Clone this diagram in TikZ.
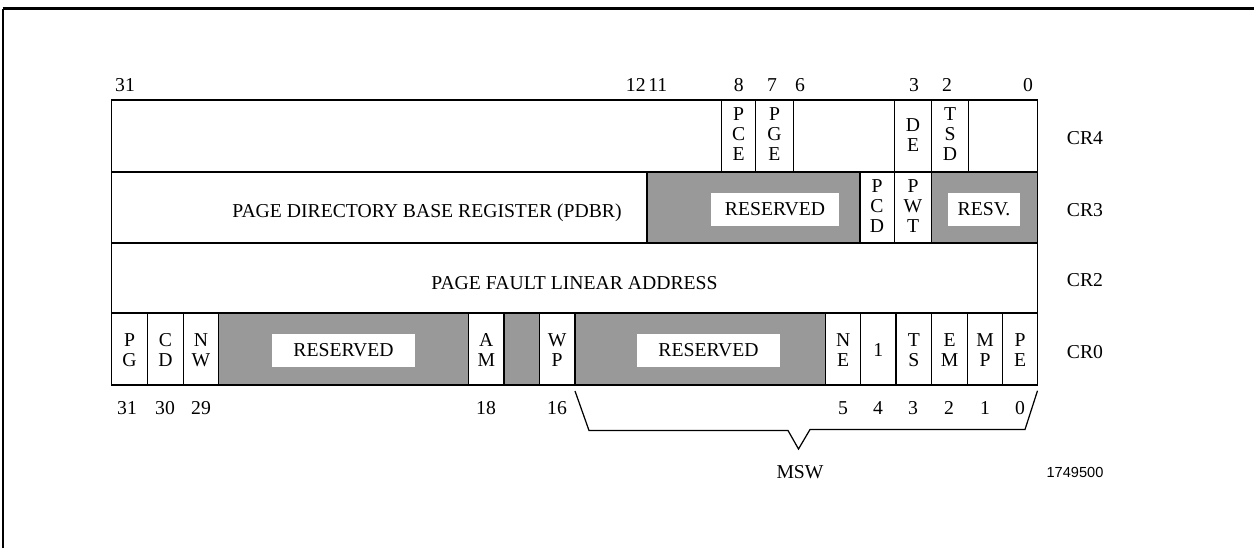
\documentclass[tikz,border=0pt]{standalone}
\usepackage{fontspec}
\setmainfont{Liberation Serif}
\newfontfamily\figidfont{Liberation Sans}
\definecolor{resgray}{RGB}{153,153,153}
\tikzset{
  txt/.style={font=\fontsize{11.2}{13}\selectfont, inner sep=0pt},
  flag/.style={txt, align=center, font=\fontsize{11.2}{11.4}\selectfont},
  resbox/.style={txt, fill=white, minimum height=0.66cm},
  rowline/.style={line width=1.1pt},
  cellline/.style={line width=0.7pt}
}
\begin{document}
\begin{tikzpicture}[x=0.02cm, y=-0.02cm]
\useasboundingbox (0,0) rectangle (1254,548);
% page frame
\draw[line width=0.75pt] (3,548) -- (3,8.7);
\draw[line width=1.5pt] (2.6,8.7) -- (1254,8.7);
% reserved fields
\fill[resgray] (647,171.7) rectangle (860,242.7);
\fill[resgray] (932,171.7) rectangle (1037.5,242.7);
\fill[resgray] (218.7,313.3) rectangle (468.7,385);
\fill[resgray] (504,313.3) rectangle (539.3,385);
\fill[resgray] (575,313.3) rectangle (825.7,385);
\node[resbox, minimum width=2.56cm] (res3) at (775,209) {RESERVED};
\node[resbox, minimum width=1.44cm] (resv3) at (984,209) {RESV.};
\node[resbox, minimum width=2.86cm] (res0a) at (343.5,350.5) {RESERVED};
\node[resbox, minimum width=2.86cm] (res0b) at (708.5,350.5) {RESERVED};
% registers
\begin{scope}[rowline]
\draw (111.5,100) rectangle (1037.5,385);
\foreach \y in {171.7,242.7,313.3}
  \draw (111.5,\y) -- (1037.5,\y);
\end{scope}
\begin{scope}[cellline]
\foreach \x in {721.7,755.7,793.3,894.3,931.7,968.3}
  \draw (\x,100) -- (\x,171.7);
\foreach \x in {647,860,894.3,931.7}
  \draw (\x,171.7) -- (\x,242.7);
\foreach \x in {147.7,183.3,218.7,468.7,504,539.3,575,825.7,860.7,896,931.7,967.5,1002.7}
  \draw (\x,313.3) -- (\x,385);
\end{scope}
% CR4 flags
\node[flag] (pce) at (738.7,134) {P\\C\\E};
\node[flag] (pge) at (774.5,134) {P\\G\\E};
\node[flag] (de) at (913,135) {D\\E};
\node[flag] (tsd) at (950,134) {T\\S\\D};
% CR3
\node[txt] (pdbr) at (427,213) {PAGE DIRECTORY BASE REGISTER (PDBR)};
\node[flag] (pcd) at (877,206) {P\\C\\D};
\node[flag] (pwt) at (913,206) {P\\W\\T};
% CR2
\node[txt] (pfla) at (574.5,283) {PAGE FAULT LINEAR ADDRESS};
% CR0 flags
\foreach \x/\t/\n in {129.6/P\\G/pg, 165.5/C\\D/cd, 201/N\\W/nw, 486.3/A\\M/am,
    557.2/W\\P/wp, 843.2/N\\E/ne, 878.3/1/one, 913.9/T\\S/ts, 949.6/E\\M/em,
    985.1/M\\P/mp, 1020.1/P\\E/pe}
  \node[flag] (\n) at (\x,350) {\t};
% bit numbers
\node[txt] (t31) at (125,85) {31};
\node[txt, anchor=east] (t12) at (646,85) {12};
\node[txt, anchor=west] (t11) at (648,85) {11};
\foreach \x/\n in {738.7/8, 772/7, 800/6, 914/3, 947/2, 1028/0}
  \node[txt] (t\n) at (\x,85) {\n};
\foreach \x/\n in {127/31, 165/30, 201/29, 486/18, 557/16, 843/5, 878/4, 913/3, 949/2, 985/1, 1020/0}
  \node[txt] (b\n) at (\x,408) {\n};
% register names
\node[txt] (cr4) at (1085,138) {CR4};
\node[txt] (cr3) at (1085,210) {CR3};
\node[txt] (cr2) at (1085,280) {CR2};
\node[txt] (cr0) at (1085,352) {CR0};
% machine status word
\coordinate (mswl) at (575,391);
\coordinate (mswr) at (1037.5,390.7);
\coordinate (mswtip) at (798.5,449);
\draw[cellline] (mswl) -- (589,430.5) -- (788,430.5) -- (mswtip) -- (810,429.5) -- (1025,429.5) -- (mswr);
\node[txt] (msw) at (800,472) {MSW};
\node[font=\figidfont\fontsize{8.3}{10}\selectfont, inner sep=0pt] (figid) at (1075,472) {1749500};
\end{tikzpicture}
\end{document}
